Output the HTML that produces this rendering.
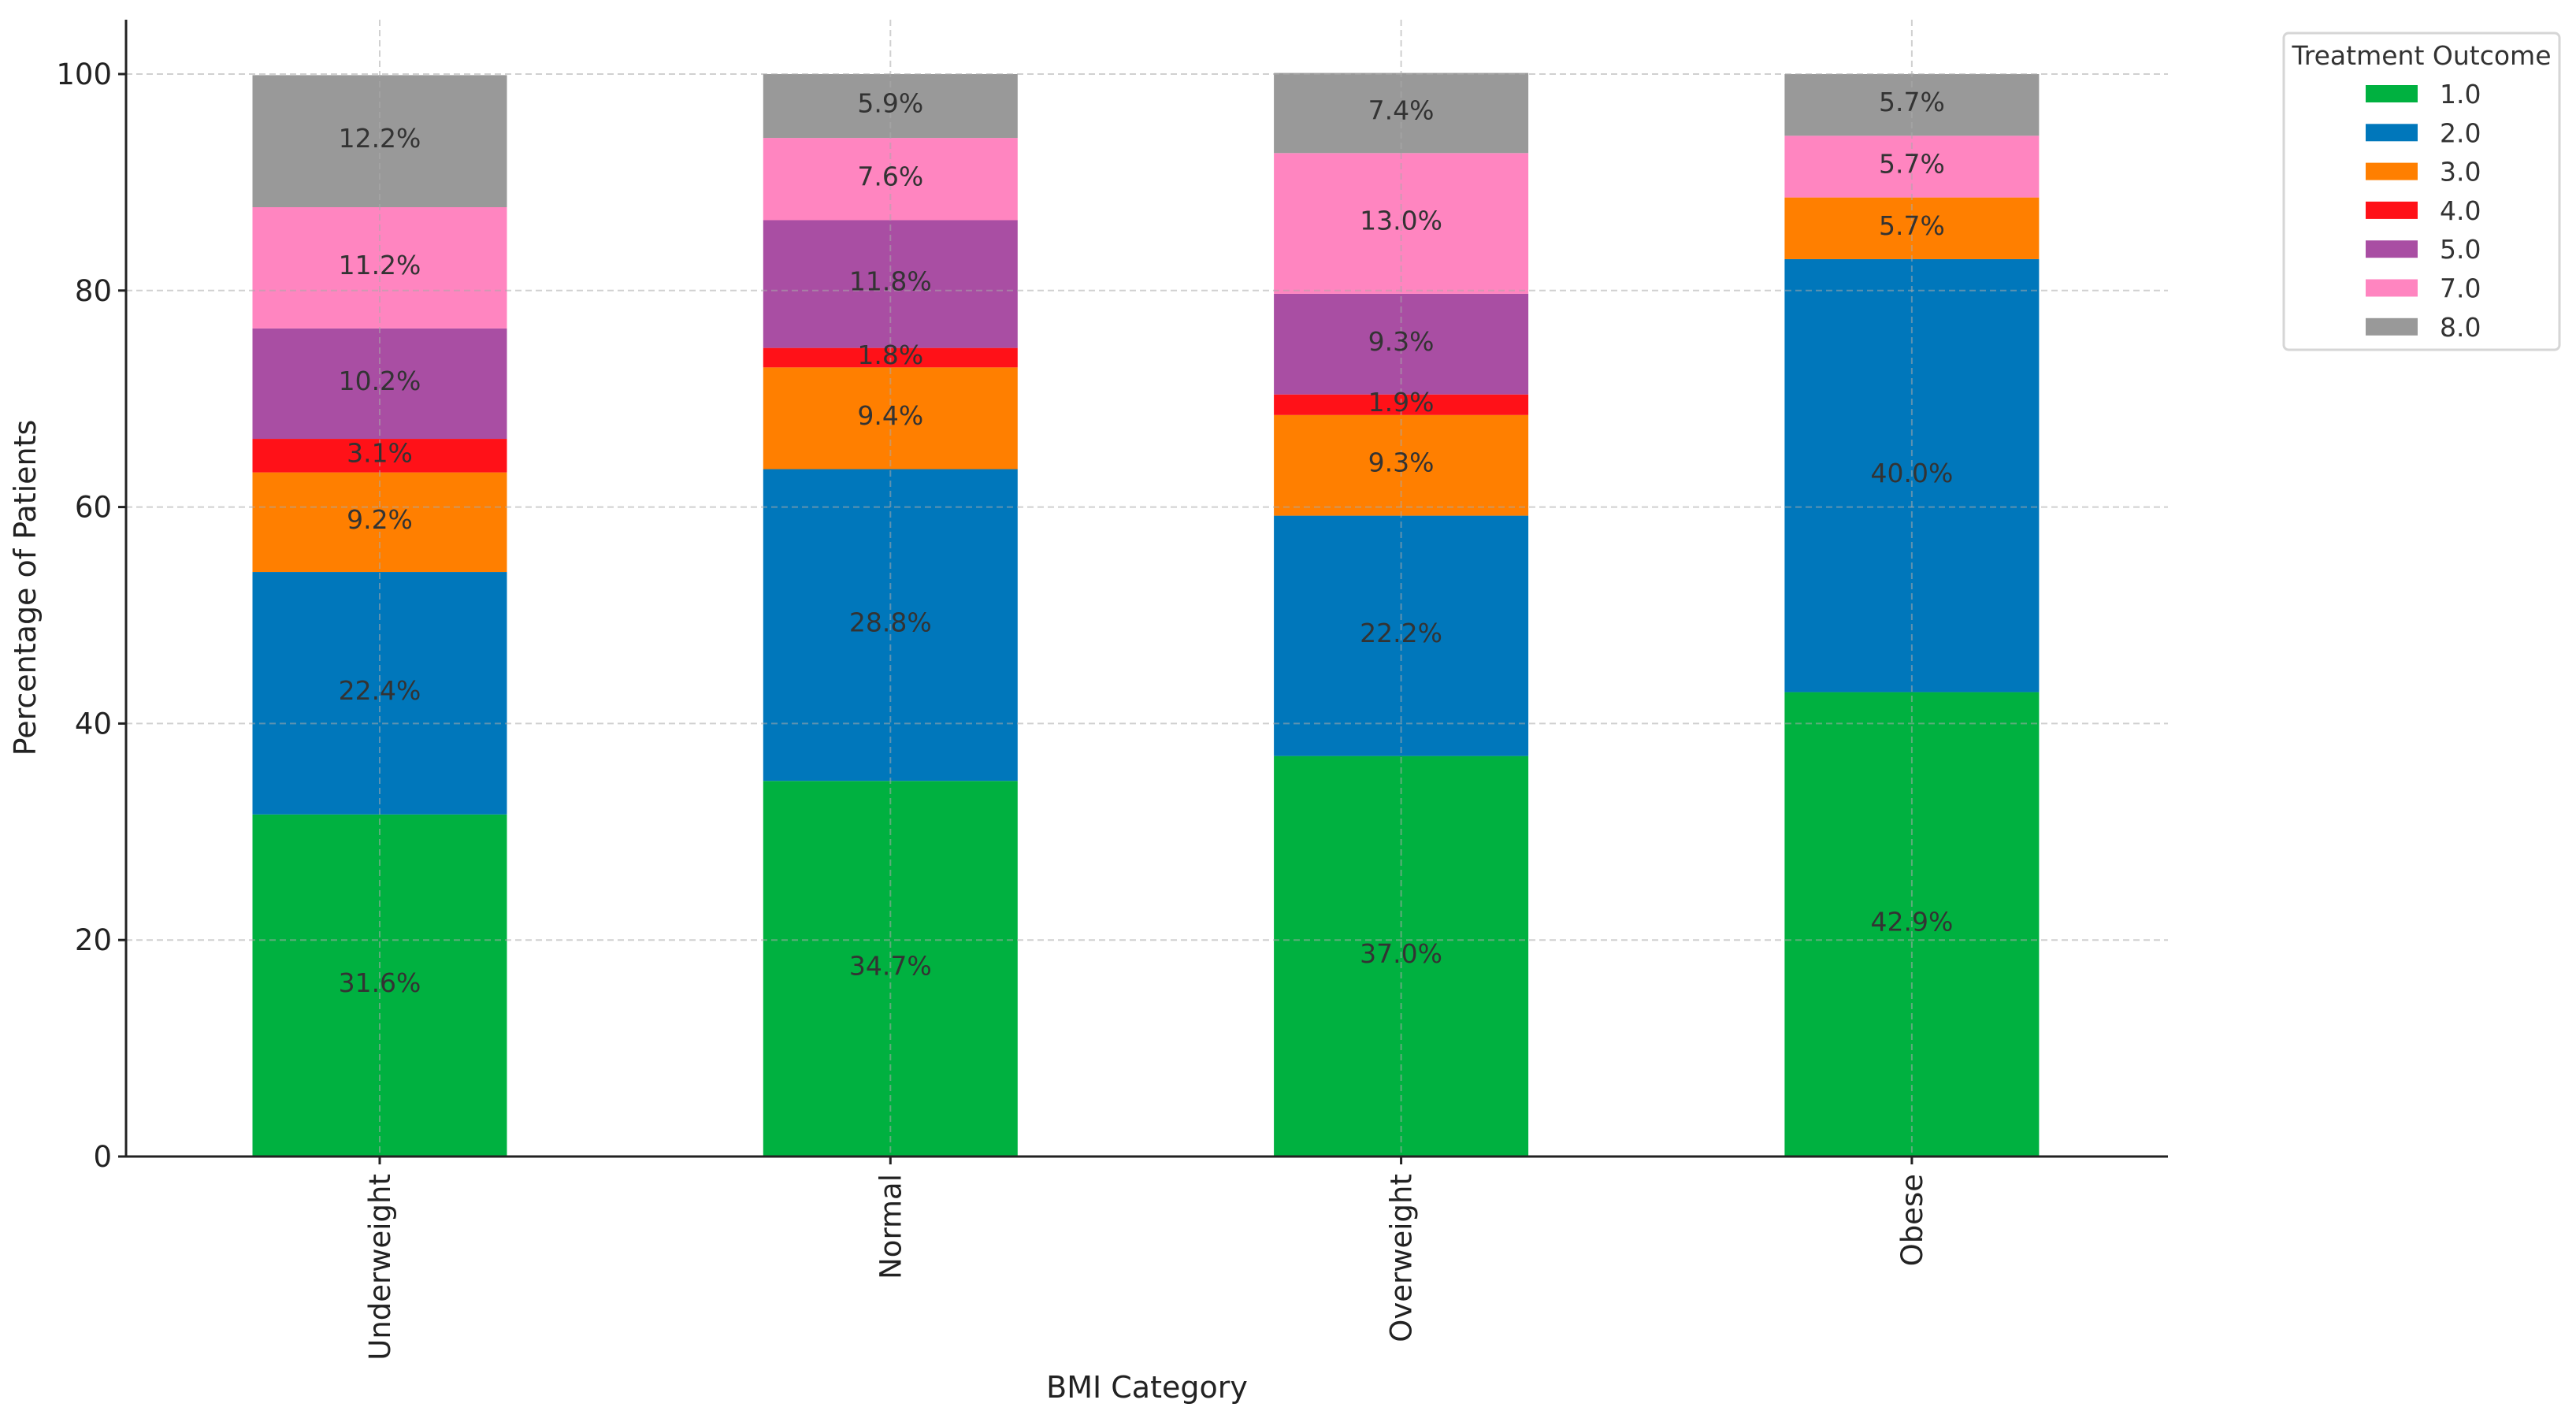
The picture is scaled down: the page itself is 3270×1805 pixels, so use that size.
<!DOCTYPE html>
<html><head><meta charset="utf-8"><style>
html,body{margin:0;padding:0;background:#fff;}
svg{display:block;font-family:"DejaVu Sans","Liberation Sans",sans-serif;}
</style></head><body>
<svg id="chart" width="3270" height="1805" viewBox="0 0 3270 1805" xmlns="http://www.w3.org/2000/svg">
<g id="bars"></g>
<g id="grid"></g>
<g id="labels"></g>
<g id="axes"></g>
<text x="0" y="0" transform="translate(45,746) rotate(-90)" text-anchor="middle" font-size="38" fill="#222">Percentage of Patients</text>
<text x="1456" y="1774" text-anchor="middle" font-size="38" fill="#222">BMI Category</text>
<g>
<rect x="2899" y="42" width="350" height="402" rx="6" fill="#fff" stroke="#d6d6d6" stroke-width="3"/>
<text x="3074" y="82" text-anchor="middle" font-size="33" fill="#333">Treatment Outcome</text>
<g id="legendItems"></g>
</g>
</svg>
<script>
const categories = ["Underweight","Normal","Overweight","Obese"];
const seriesNames = ["1.0","2.0","3.0","4.0","5.0","7.0","8.0"];
const s1 = [31.6, 34.7, 37.0, 42.9];
const s2 = [22.4, 28.8, 22.2, 40.0];
const s3 = [9.2, 9.4, 9.3, 5.7];
const s4 = [3.1, 1.8, 1.9, 0];
const s5 = [10.2, 11.8, 9.3, 0];
const s7 = [11.2, 7.6, 13.0, 5.7];
const s8 = [12.2, 5.9, 7.4, 5.7];
const yTicks = [0, 20, 40, 60, 80, 100];
const series = [s1, s2, s3, s4, s5, s7, s8];
const colors = ["#00b140","#0077bb","#ff7f00","#ff1118","#a94ea3","#ff85c0","#999999"];

const NS = "http://www.w3.org/2000/svg";
const L = 160, R = 2752, T = 25, B = 1468, Y0 = 1468, Y100 = 94;
function yScale(v){ return Y0 - (Y0 - Y100) * v / 100; }
function xCenter(i){ return 482 + i * 648.3; }
const BW = 323;
function mk(tag, attrs, parent){ const e = document.createElementNS(NS, tag); for (const k in attrs) e.setAttribute(k, attrs[k]); parent.appendChild(e); return e; }

const gBars = document.getElementById('bars');
const gGrid = document.getElementById('grid');
const gLab = document.getElementById('labels');
const gAx = document.getElementById('axes');
const gLeg = document.getElementById('legendItems');

categories.forEach((c, i) => {
  let cum = 0;
  series.forEach((s, k) => {
    const v = s[i];
    if (v > 0) {
      const r = mk('rect', {x: xCenter(i) - BW/2, y: yScale(cum + v), width: BW, height: yScale(cum) - yScale(cum + v), fill: colors[k]}, gBars);
      
      
      const t = mk('text', {x: xCenter(i), y: yScale(cum + v/2) + 8, 'text-anchor': 'middle', 'font-size': 33, fill: '#333'}, gLab);
      t.textContent = v.toFixed(1) + '%';
      
      
    }
    cum += v;
  });
});

yTicks.forEach(v => {
  const y = yScale(v);
  if (v > 0) {
    const g = mk('line', {x1: L, x2: R, y1: y, y2: y, stroke: 'rgba(170,170,170,0.55)', 'stroke-width': 2, 'stroke-dasharray': '8,5'}, gGrid);
    
    
  }
  const tk = mk('line', {x1: L - 10, x2: L, y1: y, y2: y, stroke: '#222', 'stroke-width': 3}, gAx);
  
  
  const t = mk('text', {x: L - 18, y: y + 13, 'text-anchor': 'end', 'font-size': 37, fill: '#222'}, gAx);
  t.textContent = v;
  
  
});

categories.forEach((c, i) => {
  const x = xCenter(i);
  const g = mk('line', {x1: x, x2: x, y1: T, y2: B, stroke: 'rgba(170,170,170,0.55)', 'stroke-width': 2, 'stroke-dasharray': '8,5'}, gGrid);
  
  
  const tk = mk('line', {x1: x, x2: x, y1: B, y2: B + 10, stroke: '#222', 'stroke-width': 3}, gAx);
  
  
  const t = mk('text', {x: 0, y: 0, transform: 'translate(' + (x + 13) + ',' + (B + 22) + ') rotate(-90)', 'text-anchor': 'end', 'font-size': 37, fill: '#222'}, gAx);
  t.textContent = c;
  
  
});

const ay = mk('line', {x1: L, x2: L, y1: T, y2: B, stroke: '#222', 'stroke-width': 3}, gAx);


const ax = mk('line', {x1: L, x2: R, y1: B, y2: B, stroke: '#222', 'stroke-width': 3}, gAx);



seriesNames.forEach((n, k) => {
  const y = 119 + k * 49.3;
  const r = mk('rect', {x: 3003, y: y - 11, width: 66, height: 22, fill: colors[k]}, gLeg);
  
  
  const t = mk('text', {x: 3097, y: y + 12, 'font-size': 33, fill: '#333'}, gLeg);
  t.textContent = n;
  
  
});
</script>
</body></html>
